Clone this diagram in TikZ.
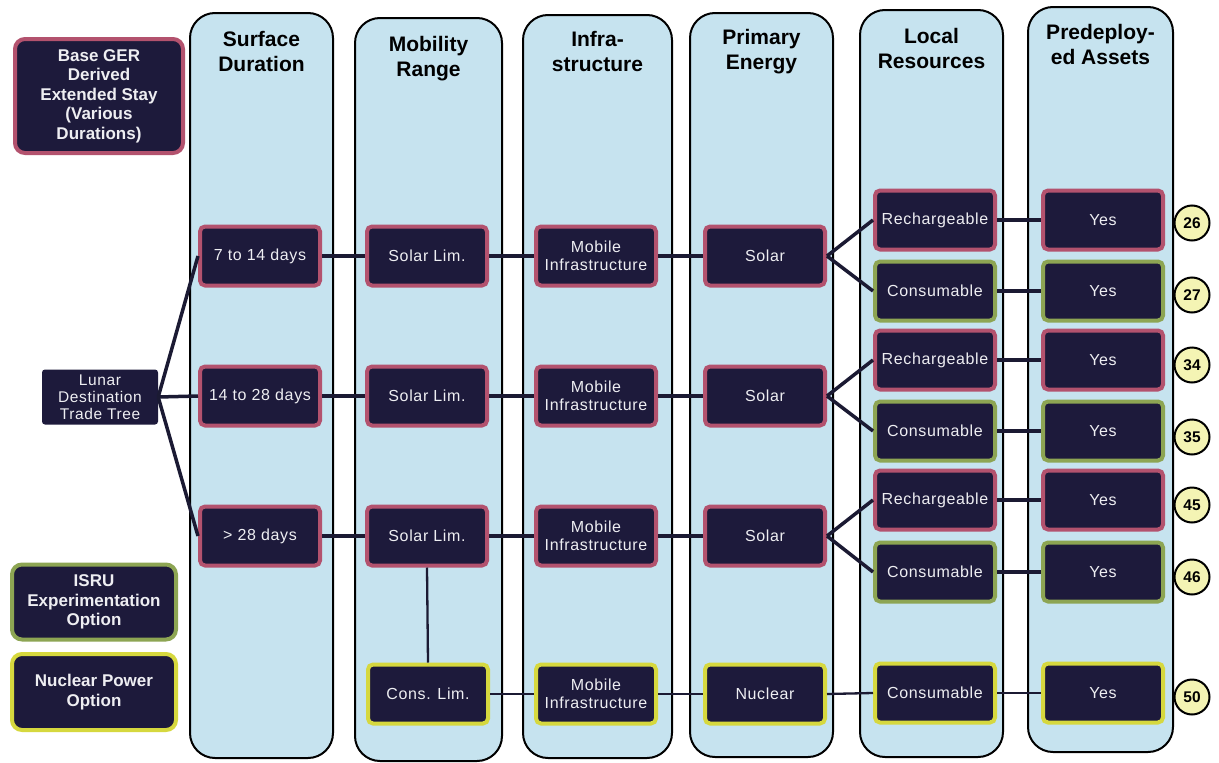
\documentclass[tikz,border=0pt]{standalone}
\usepackage{fontspec}
\setmainfont{Liberation Sans}
\newfontfamily\nodefont[LetterSpace=4]{Liberation Sans}
\definecolor{panelblue}{HTML}{C6E3EF}
\definecolor{navy}{HTML}{1D1A3B}
\definecolor{pinkc}{HTML}{B3526E}
\definecolor{greenc}{HTML}{8DA553}
\definecolor{yellowc}{HTML}{D6D83E}
\definecolor{linec}{HTML}{1B1A33}
\definecolor{nodetext}{HTML}{EEEEF2}
\definecolor{numfill}{HTML}{F4F4B4}
\tikzset{
  panel/.style={draw=black, line width=2pt, fill=panelblue, rounded corners=25pt},
  head/.style={font=\bfseries\fontsize{21}{25}\selectfont, align=center, anchor=north, inner sep=0pt},
  box/.style={rectangle, rounded corners=5pt, fill=navy, line width=4pt, minimum width=120pt,
    minimum height=59pt, text=nodetext, font=\nodefont\fontsize{16}{18.5}\selectfont, align=center, inner sep=2pt},
  pinkb/.style={box, draw=pinkc},
  greenb/.style={box, draw=greenc},
  yellowb/.style={box, draw=yellowc},
  legend/.style={rectangle, rounded corners=10pt, fill=navy, line width=4pt, text=nodetext,
    font=\bfseries\fontsize{17}{19.5}\selectfont, align=center},
  link/.style={draw=linec, line width=3.5pt},
  thinlink/.style={draw=linec, line width=2.3pt},
  numc/.style={circle, draw=black, line width=2pt, fill=numfill, minimum size=35pt, inner sep=0pt,
    font=\bfseries\fontsize{15.5}{17}\selectfont}
}
\begin{document}
\begin{tikzpicture}[x=1pt, y=-1pt]
\useasboundingbox[fill=white] (0,0) rectangle (1219,763);
% panels
\draw[panel] (190,13) rectangle (333,758);
\draw[panel] (355,18) rectangle (502,761);
\draw[panel] (523,15) rectangle (672,758);
\draw[panel] (690,13) rectangle (833,757);
\draw[panel] (860,10) rectangle (1003,757);
\draw[panel] (1028,7) rectangle (1173,752);
% headers
\node[head] (h1) at (261.5,31) {Surface\\Duration};
\node[head] (h2) at (428.5,36) {Mobility\\Range};
\node[head] (h3) at (597.5,31) {Infra-\\structure};
\node[head] (h4) at (761.5,29) {Primary\\Energy};
\node[head] (h5) at (931.5,28) {Local\\Resources};
\node[head] (h6) at (1100.5,24) {Predeploy-\\ed Assets};
% legends
\node[legend, draw=pinkc, minimum width=168pt, minimum height=114pt] (base) at (99,96)
  {Base GER\\Derived\\Extended Stay\\(Various\\Durations)};
\node[rectangle, rounded corners=3pt, fill=navy, text=nodetext, minimum width=116pt, minimum height=55pt,
  align=center, font=\nodefont\fontsize{15.5}{17}\selectfont, inner sep=1pt] (lunar) at (100,397)
  {Lunar\\Destination\\Trade Tree};
\node[legend, draw=greenc, minimum width=164pt, minimum height=75pt] (isru) at (94,602)
  {ISRU\\Experimentation\\Option};
\node[legend, draw=yellowc, minimum width=164pt, minimum height=76pt] (nuc) at (94,692)
  {Nuclear Power\\Option};
% surface duration
\node[pinkb] (s1) at (260,256) {7 to 14 days};
\node[pinkb] (s2) at (260,396) {14 to 28 days};
\node[pinkb] (s3) at (260,536) {> 28 days};
% mobility
\node[pinkb] (m1) at (427,256) {Solar Lim.};
\node[pinkb] (m2) at (427,396) {Solar Lim.};
\node[pinkb] (m3) at (427,536) {Solar Lim.};
\node[yellowb] (m4) at (428,694) {Cons. Lim.};
% infrastructure
\node[pinkb] (i1) at (596,256) {Mobile\\Infrastructure};
\node[pinkb] (i2) at (596,396) {Mobile\\Infrastructure};
\node[pinkb] (i3) at (596,536) {Mobile\\Infrastructure};
\node[yellowb] (i4) at (596,694) {Mobile\\Infrastructure};
% energy
\node[pinkb] (e1) at (765,256) {Solar};
\node[pinkb] (e2) at (765,396) {Solar};
\node[pinkb] (e3) at (765,536) {Solar};
\node[yellowb] (e4) at (765,694) {Nuclear};
% local resources
\node[pinkb] (r1) at (935,220) {Rechargeable};
\node[greenb] (c1) at (935,291) {Consumable};
\node[pinkb] (r2) at (935,360) {Rechargeable};
\node[greenb] (c2) at (935,431) {Consumable};
\node[pinkb] (r3) at (935,500) {Rechargeable};
\node[greenb] (c3) at (935,572) {Consumable};
\node[yellowb] (c4) at (935,693) {Consumable};
% predeployed
\node[pinkb] (y1) at (1103,220) {Yes};
\node[greenb] (y2) at (1103,291) {Yes};
\node[pinkb] (y3) at (1103,360) {Yes};
\node[greenb] (y4) at (1103,431) {Yes};
\node[pinkb] (y5) at (1103,500) {Yes};
\node[greenb] (y6) at (1103,572) {Yes};
\node[yellowb] (y7) at (1103,693) {Yes};
% numbers
\node[numc] (n1) at (1192,223) {26};
\node[numc] (n2) at (1192,295) {27};
\node[numc] (n3) at (1192,365) {34};
\node[numc] (n4) at (1192,437) {35};
\node[numc] (n5) at (1192,505) {45};
\node[numc] (n6) at (1192,577) {46};
\node[numc] (n7) at (1192,697) {50};
% connectors
\draw[link] (lunar.east) -- (s1.west);
\draw[link] (lunar.east) -- (s2.west);
\draw[link] (lunar.east) -- (s3.west);
\foreach \k in {1,2,3}{
  \draw[link] (s\k.east) -- (m\k.west);
  \draw[link] (m\k.east) -- (i\k.west);
  \draw[link] (i\k.east) -- (e\k.west);
}
\draw[link] (e1.east) -- (r1.west);
\draw[link] (e1.east) -- (c1.west);
\draw[link] (e2.east) -- (r2.west);
\draw[link] (e2.east) -- (c2.west);
\draw[link] (e3.east) -- (r3.west);
\draw[link] (e3.east) -- (c3.west);
\draw[link] (r1.east) -- (y1.west);
\draw[link] (c1.east) -- (y2.west);
\draw[link] (r2.east) -- (y3.west);
\draw[link] (c2.east) -- (y4.west);
\draw[link] (r3.east) -- (y5.west);
\draw[link] (c3.east) -- (y6.west);
\draw[thinlink] (m3.south) -- (m4.north);
\draw[thinlink] (m4.east) -- (i4.west);
\draw[thinlink] (i4.east) -- (e4.west);
\draw[thinlink] (e4.east) -- (c4.west);
\draw[thinlink] (c4.east) -- (y7.west);
\end{tikzpicture}
\end{document}
